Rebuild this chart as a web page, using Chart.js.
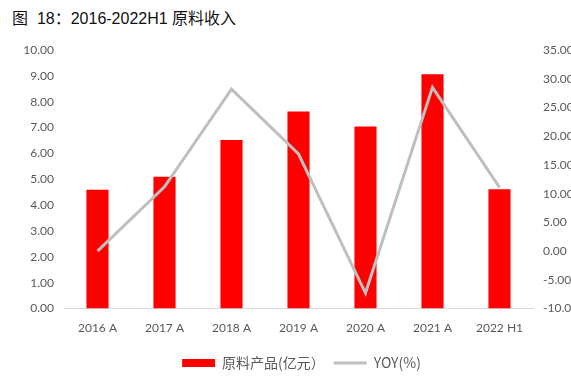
<!DOCTYPE html>
<html>
<head>
<meta charset="utf-8">
<script src="https://cdn.jsdelivr.net/npm/chart.js@4.4.1/dist/chart.umd.min.js"></script>
<style>
  html, body { margin: 0; padding: 0; background: #fff; }
  #wrap { position: relative; width: 571px; height: 388px; }
  #title {
    position: absolute; left: 12px; top: 5px;
    font: 16px "Liberation Sans", "Noto Sans CJK SC", sans-serif;
    color: #111; white-space: pre;
  }
  canvas { position: absolute; left: 0; top: 0; }
</style>
</head>
<body>
<div id="wrap">
  <div id="title">图  18：2016-2022H1 原料收入</div>
  <canvas id="c" width="571" height="388"></canvas>
</div>
<script>
// 原料收入 2016-2022H1
const categories = ["2016 A", "2017 A", "2018 A", "2019 A", "2020 A", "2021 A", "2022 H1"];
const revenue = [4.60, 5.10, 6.52, 7.62, 7.04, 9.06, 4.62];   // 亿元
const yoy = [0.0, 11.2, 28.2, 16.9, -7.3, 28.5, 11.1];        // %
const leftTicks = { min: 0, max: 10, step: 1 };
const rightTicks = { min: -10, max: 35, step: 5 };

const tickFont = { family: "Lato, 'Noto Sans CJK SC', sans-serif", size: 12 };
const tickColor = "#595959";

// legend in the original sits a bit right of the canvas centre
const legendShift = {
  id: "legendShift",
  afterLayout(c) {
    c.legend.left += 16;
    c.legend.right += 16;
  }
};

new Chart(document.getElementById("c"), {
  data: {
    labels: categories,
    datasets: [
      {
        type: "line",
        label: "YOY(%)",
        data: yoy,
        yAxisID: "y2",
        borderColor: "#bfbfbf",
        backgroundColor: "#bfbfbf",
        borderWidth: 3,
        pointRadius: 0,
        tension: 0,
        order: 0
      },
      {
        type: "bar",
        label: "原料产品(亿元）",
        data: revenue,
        yAxisID: "y",
        backgroundColor: "#ff0000",
        barPercentage: 0.33,
        categoryPercentage: 1,
        order: 1
      }
    ]
  },
  plugins: [legendShift],
  options: {
    responsive: false,
    animation: false,
    layout: { padding: { top: 50, left: 0, right: 0, bottom: 8 } },
    plugins: {
      legend: {
        position: "bottom",
        reverse: true,
        labels: {
          usePointStyle: true,
          pointStyleWidth: 33,
          boxHeight: 8,
          color: tickColor,
          font: { family: "'Noto Sans CJK SC', sans-serif", size: 14 },
          padding: 9,
          generateLabels(chart) {
            const items = Chart.defaults.plugins.legend.labels.generateLabels(chart);
            items.forEach(it => {
              const ds = chart.data.datasets[it.datasetIndex];
              it.pointStyle = ds.type === "line" ? "line" : "rect";
              if (ds.type === "line") { it.strokeStyle = "#bfbfbf"; it.lineWidth = 3; }
              else { it.lineWidth = 0; }
            });
            return items;
          }
        }
      },
      tooltip: { enabled: false }
    },
    scales: {
      x: {
        grid: { display: false, drawTicks: false },
        border: { display: true, color: "#d9d9d9", width: 1 },
        ticks: { color: tickColor, font: tickFont, padding: 12, maxRotation: 0 }
      },
      y: {
        position: "left",
        min: leftTicks.min, max: leftTicks.max,
        grid: { display: false, drawTicks: false },
        border: { display: false },
        ticks: {
          stepSize: leftTicks.step, color: tickColor, font: tickFont, padding: 10,
          callback: v => v.toFixed(2)
        },
        afterFit(s) { s.width = 64; }
      },
      y2: {
        position: "right",
        min: rightTicks.min, max: rightTicks.max,
        grid: { display: false, drawTicks: false },
        border: { display: false },
        ticks: {
          stepSize: rightTicks.step, color: tickColor, font: tickFont, padding: 10,
          callback: v => v.toFixed(2)
        },
        afterFit(s) { s.width = 38; }
      }
    }
  }
});
</script>
</body>
</html>
